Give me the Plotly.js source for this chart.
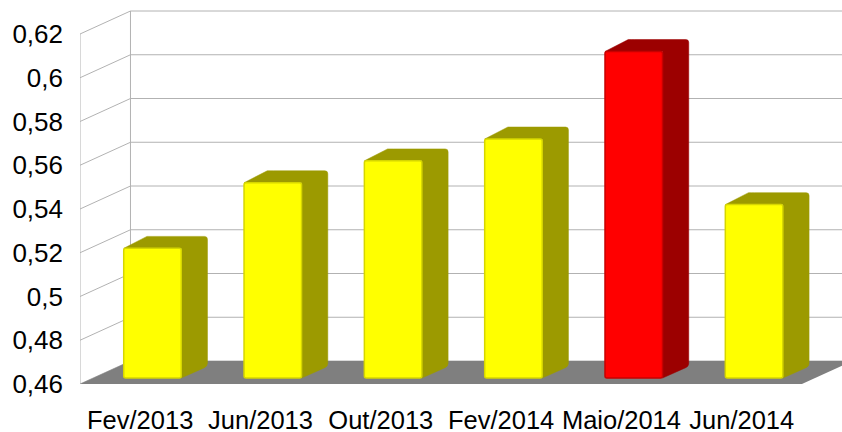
<!DOCTYPE html>
<html><head><meta charset="utf-8">
<script src="https://cdn.plot.ly/plotly-3.0.1.min.js"></script>
<style>html,body{margin:0;padding:0;background:#fff}#c{width:842px;height:432px}</style>
</head><body><div id="c"></div>
<script>
const categories = ['Fev/2013','Jun/2013','Out/2013','Fev/2014','Maio/2014','Jun/2014'];
const values = [0.52,0.55,0.56,0.57,0.61,0.54];
const tickValues = [0.46,0.48,0.5,0.52,0.54,0.56,0.58,0.6,0.62];
const tickLabels = ['0,46','0,48','0,5','0,52','0,54','0,56','0,58','0,6','0,62'];
const frontColors = ['#ffff00','#ffff00','#ffff00','#ffff00','#ff0000','#ffff00'];
const edgeColors = ['#d6d600','#d6d600','#d6d600','#d6d600','#c80000','#d6d600'];
const sideColors = ['#9c9a00','#9c9a00','#9c9a00','#9c9a00','#9c0000','#9c9a00'];

// pixel scale of the front plane
const W=842,H=432,L=79.5,B=48;
const pxX=120.4, pxY=2187.5;
const baseVal=0.46;
const depthX=50.5/pxX, depthY=23/pxY;      // full depth of the floor in axis units
const near=0.244, far=0.764;               // depth of bar's front and back
const lift=near*depthY-1.2/pxY;            // vertical shift of the bar's front plane
const foot=1.5/pxY;                        // bars stand slightly above the axis base
const barW=0.478;
const xMax=(W-L)/pxX, yMax=baseVal+(H-B)/pxY;
const n=categories.length;

const grid='#b2b2b2';
const shapes=[];
// left wall and back wall verticals
const topTick=tickValues[tickValues.length-1];
shapes.push({type:'line',xref:'x',yref:'y',x0:0,x1:0,y0:baseVal,y1:topTick,line:{color:grid,width:1},layer:'below'});
shapes.push({type:'line',xref:'x',yref:'y',x0:depthX,x1:depthX,y0:baseVal+depthY,y1:topTick+depthY,line:{color:grid,width:1},layer:'below'});
tickValues.forEach(v=>{
  shapes.push({type:'path',xref:'x',yref:'y',layer:'below',line:{color:grid,width:1},
    path:`M0,${v}L${depthX},${v+depthY}L${n+depthX},${v+depthY}`});
});
// floor
shapes.push({type:'path',xref:'x',yref:'y',layer:'below',fillcolor:'#7f7f7f',line:{color:'#7f7f7f',width:0},
  path:`M0,${baseVal}L${n},${baseVal}L${n+depthX},${baseVal+depthY}L${depthX},${baseVal+depthY}Z`});
// top and side faces of the bars
const rx=3/pxX, ry=3/pxY;
values.forEach((v,i)=>{
  const c=i+0.5+near*depthX, xl=c-barW/2, xr=c+barW/2;
  const d=(far-near)*depthX, dd=(far-near)*depthY;
  const t=v+lift, b=baseVal+lift+foot;
  const path=`M${xl},${t}L${xl+d-rx},${t+dd}Q${xl+d},${t+dd} ${xl+d+rx},${t+dd}`+
    `L${xr+d-rx},${t+dd}Q${xr+d},${t+dd} ${xr+d},${t+dd-ry}`+
    `L${xr+d},${b+dd+ry}Q${xr+d},${b+dd} ${xr+d-rx},${b+dd-ry*0.5}L${xr},${b}L${xr},${t}Z`;
  shapes.push({type:'path',xref:'x',yref:'y',layer:'below',fillcolor:sideColors[i],line:{color:sideColors[i],width:0.5},path});
});

const trace={type:'bar',
  x:values.map((v,i)=>i+0.5+near*depthX),
  y:values.map(v=>v-baseVal-foot),
  base:values.map(()=>baseVal+lift+foot),
  width:barW,
  marker:{color:frontColors,line:{color:edgeColors,width:1.5},cornerradius:2},
  hoverinfo:'skip',showlegend:false};

const family='"Liberation Sans",Arial,sans-serif';
Plotly.newPlot('c',[trace],{
  width:W,height:H,paper_bgcolor:'#fff',plot_bgcolor:'#fff',showlegend:false,
  margin:{l:L,r:0,t:0,b:B,pad:0},
  xaxis:{range:[0,xMax],tickmode:'array',tickvals:categories.map((c,i)=>i+0.5),ticktext:categories,
    showgrid:false,zeroline:false,showline:false,ticks:'',ticklabelstandoff:18,tickangle:0,
    tickfont:{family,size:25.5,color:'#000'},fixedrange:true},
  yaxis:{range:[baseVal,yMax],tickmode:'array',tickvals:tickValues,ticktext:tickLabels,
    showgrid:false,zeroline:false,showline:false,ticks:'',ticklabelstandoff:16,
    tickfont:{family,size:26,color:'#000'},fixedrange:true},
  shapes
},{staticPlot:true,displayModeBar:false});
</script></body></html>
